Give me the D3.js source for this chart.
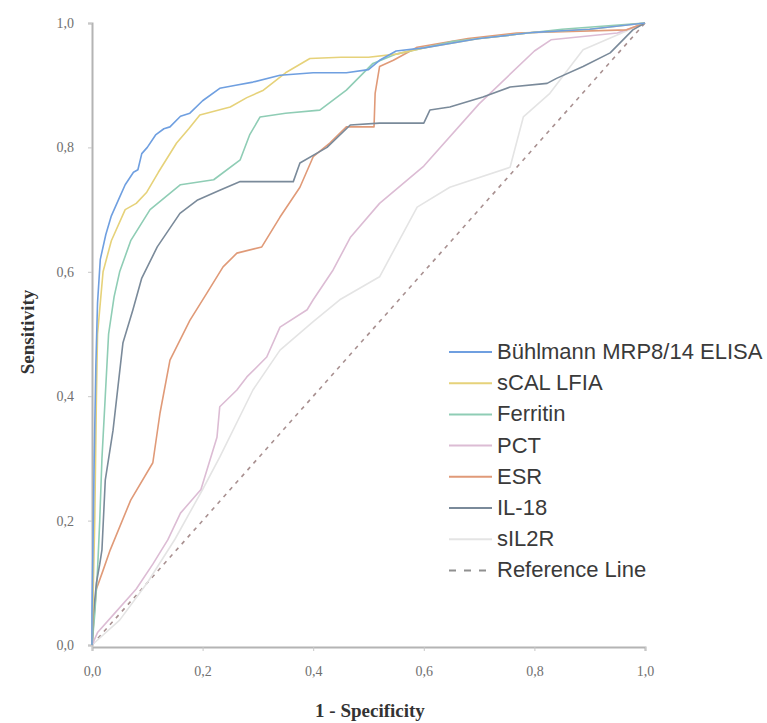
<!DOCTYPE html>
<html><head><meta charset="utf-8">
<script src="https://cdn.jsdelivr.net/npm/d3@7"></script>
<style>body{margin:0;background:#fff}svg{display:block}</style>
</head><body>
<svg id="chart" width="767" height="723"></svg>
<script>
const seriesNames = ["Bühlmann MRP8/14 ELISA","sCAL LFIA","Ferritin","PCT","ESR","IL-18","sIL2R"];
const seriesColors = ["#6f9fe0","#e6d27a","#8fcdb5","#dcbcd4","#e09a78","#7a8a9a","#e4e4e4"];
const tickValues = [0,0.2,0.4,0.6,0.8,1.0];

// [1-specificity, sensitivity]
const buhlmann = [[0,0],[0,0.05],[0.004,0.3],[0.007,0.45],[0.01,0.55],[0.015,0.62],[0.025,0.66],[0.035,0.69],[0.05,0.72],[0.06,0.74],[0.075,0.76],[0.083,0.764],[0.09,0.79],[0.1,0.8],[0.115,0.82],[0.13,0.83],[0.141,0.833],[0.16,0.85],[0.177,0.855],[0.2,0.875],[0.231,0.895],[0.26,0.9],[0.291,0.905],[0.34,0.916],[0.4,0.92],[0.46,0.92],[0.5,0.925],[0.52,0.94],[0.55,0.955],[0.6,0.96],[0.7,0.975],[0.8,0.985],[0.9,0.99],[1,1]];
const scal = [[0,0],[0.005,0.2],[0.008,0.4],[0.01,0.5],[0.015,0.55],[0.02,0.6],[0.035,0.65],[0.06,0.7],[0.08,0.71],[0.099,0.728],[0.12,0.76],[0.153,0.807],[0.175,0.83],[0.195,0.852],[0.25,0.865],[0.28,0.88],[0.31,0.892],[0.35,0.92],[0.394,0.943],[0.45,0.945],[0.5,0.945],[0.55,0.95],[0.6,0.96],[0.7,0.975],[0.8,0.985],[0.9,0.99],[1,1]];
const ferritin = [[0,0],[0.005,0.05],[0.01,0.12],[0.014,0.2],[0.018,0.3],[0.024,0.4],[0.03,0.5],[0.04,0.56],[0.05,0.6],[0.07,0.65],[0.105,0.7],[0.16,0.74],[0.22,0.748],[0.268,0.78],[0.285,0.82],[0.304,0.849],[0.35,0.855],[0.412,0.86],[0.46,0.892],[0.508,0.935],[0.55,0.95],[0.65,0.97],[0.75,0.98],[0.85,0.99],[1,1]];
const pct = [[0,0],[0.01,0.02],[0.04,0.05],[0.08,0.09],[0.11,0.13],[0.137,0.169],[0.16,0.212],[0.197,0.25],[0.226,0.334],[0.231,0.383],[0.262,0.41],[0.28,0.431],[0.316,0.463],[0.34,0.511],[0.389,0.539],[0.4,0.555],[0.436,0.603],[0.467,0.655],[0.52,0.71],[0.6,0.77],[0.7,0.87],[0.8,0.955],[0.83,0.973],[0.95,0.984],[1,1]];
const esr = [[0,0],[0.004,0.05],[0.008,0.09],[0.02,0.12],[0.033,0.153],[0.07,0.233],[0.11,0.293],[0.123,0.373],[0.141,0.458],[0.177,0.522],[0.208,0.566],[0.237,0.608],[0.262,0.63],[0.307,0.64],[0.34,0.688],[0.376,0.736],[0.4,0.785],[0.43,0.807],[0.46,0.833],[0.51,0.833],[0.512,0.887],[0.52,0.93],[0.545,0.94],[0.588,0.961],[0.68,0.975],[0.768,0.984],[0.967,0.989],[1,1]];
const il18 = [[0,0],[0.002,0.045],[0.008,0.1],[0.014,0.13],[0.018,0.153],[0.024,0.265],[0.038,0.345],[0.056,0.486],[0.074,0.539],[0.09,0.59],[0.118,0.64],[0.159,0.694],[0.19,0.715],[0.231,0.731],[0.268,0.745],[0.364,0.745],[0.376,0.775],[0.425,0.8],[0.467,0.836],[0.52,0.839],[0.6,0.839],[0.611,0.86],[0.647,0.865],[0.707,0.881],[0.756,0.897],[0.823,0.903],[0.84,0.911],[0.888,0.93],[0.937,0.952],[0.978,0.989],[1,1]];
const sil2r = [[0,0],[0.05,0.04],[0.1,0.1],[0.15,0.17],[0.2,0.25],[0.231,0.302],[0.291,0.41],[0.34,0.474],[0.4,0.52],[0.448,0.555],[0.52,0.592],[0.588,0.704],[0.647,0.736],[0.756,0.768],[0.78,0.849],[0.828,0.887],[0.888,0.957],[1,1]];
const referenceLine = [[0,0],[1,1]];

const seriesData = [buhlmann, scal, ferritin, pct, esr, il18, sil2r];

const svg = d3.select("#chart");
const x = d3.scaleLinear().domain([0,1]).range([92,645]);
const y = d3.scaleLinear().domain([0,1]).range([645,23]);
const fmt = d => d3.format(".1f")(d).replace(".", ",");

// axes
const xAxis = svg.append("g").attr("transform","translate(0,647)")
  .call(d3.axisBottom(x).tickValues(tickValues).tickFormat(fmt).tickSize(4).tickPadding(15));
const yAxis = svg.append("g").attr("transform","translate(92,0)")
  .call(d3.axisLeft(y).tickValues(tickValues).tickFormat(fmt).tickSize(4).tickPadding(14));
[xAxis,yAxis].forEach(g=>{
  g.select(".domain").attr("stroke","#b4b4b4").attr("stroke-width",2);
  g.selectAll(".tick line").attr("stroke","#c8c8c8");
  g.selectAll(".tick text").attr("fill","#707070").attr("font-family","Liberation Serif, serif").attr("font-size",14);
});

const line = d3.line().x(d=>x(d[0])).y(d=>y(d[1]));

// reference line
svg.append("path").datum(referenceLine).attr("d",line).attr("fill","none")
  .attr("stroke","#a89090").attr("stroke-width",1.6).attr("stroke-dasharray","4,5");

// curves (draw lightest first)
const order = [6,3,4,2,5,1,0];
order.forEach(i=>{
  svg.append("path").datum(seriesData[i]).attr("d",line).attr("fill","none")
    .attr("stroke",seriesColors[i]).attr("stroke-width",1.6).attr("stroke-linejoin","round");
});

// axis titles
svg.append("text").attr("x",370).attr("y",717).attr("text-anchor","middle")
  .attr("font-family","Liberation Serif, serif").attr("font-weight","bold").attr("font-size",19).attr("fill","#333")
  .text("1 - Specificity");
svg.append("text").attr("transform","translate(34,332) rotate(-90)").attr("text-anchor","middle")
  .attr("font-family","Liberation Serif, serif").attr("font-weight","bold").attr("font-size",19).attr("fill","#333")
  .text("Sensitivity");

// legend
const legendItems = seriesNames.map((n,i)=>({name:n,color:seriesColors[i],dash:null}))
  .concat([{name:"Reference Line",color:"#909090",dash:"7,8"}]);
const lg = svg.append("g");
legendItems.forEach((it,i)=>{
  const yy = 352 + i*31.2;
  lg.append("line").attr("x1",449).attr("x2",492).attr("y1",yy).attr("y2",yy)
    .attr("stroke",it.color).attr("stroke-width",2).attr("stroke-dasharray",it.dash);
  lg.append("text").attr("x",497).attr("y",yy+7).attr("font-family","Liberation Sans, Arial, sans-serif")
    .attr("font-size",22).attr("fill","#3a3a3a").text(it.name);
});
</script>
</body></html>
